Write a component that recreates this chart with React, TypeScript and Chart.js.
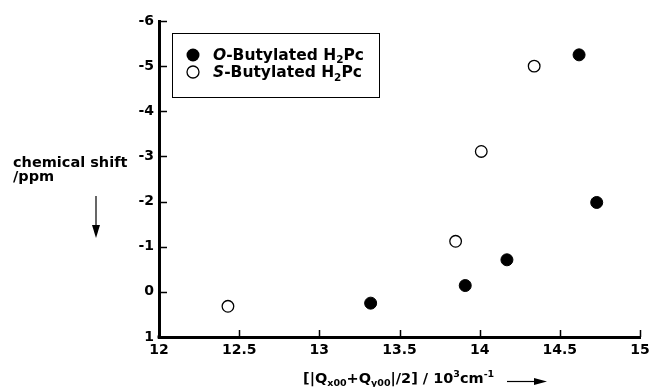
import React, { useEffect, useRef } from "react";
import { Chart, registerables } from "chart.js";

Chart.register(...registerables);

// ---- data ----
const oButylX = [13.32, 13.91, 14.17, 14.62, 14.73];
const oButylY = [0.25, -0.14, -0.71, -5.25, -1.98];
const sButylX = [12.43, 13.85, 14.01, 14.34];
const sButylY = [0.32, -1.12, -3.11, -5.0];
const seriesPrefix = ["O", "S"];
const seriesRest = ["-Butylated H", "-Butylated H"];
const seriesSub = ["2", "2"];
const seriesTail = ["Pc", "Pc"];
const yTitleLines = ["chemical shift", "/ppm"];
const xTitleRuns = [
  ["[|Q", "main"],
  ["x00", "sub"],
  ["+Q", "main"],
  ["y00", "sub"],
  ["|/2] / 10", "main"],
  ["3", "sup"],
  ["cm", "main"],
  ["-1", "sup"],
];
const xMin = 12;
const xMax = 15;
const xStep = 0.5;
const yMin = -6;
const yMax = 1;
const yStep = 1;

const FF = '"DejaVu Sans", sans-serif';

type Run = { text: string; font: string; dy: number };

function drawRuns(ctx: CanvasRenderingContext2D, x: number, baseline: number, runs: Run[]) {
  let cx = x;
  ctx.textBaseline = "alphabetic";
  ctx.textAlign = "left";
  for (const r of runs) {
    ctx.font = r.font;
    ctx.fillText(r.text, cx, baseline + r.dy);
    cx += ctx.measureText(r.text).width;
  }
  return cx;
}

const decorPlugin = {
  id: "decor",
  afterDraw(chart: any) {
    const ctx: CanvasRenderingContext2D = chart.ctx;
    const xs = chart.scales.x;
    const ys = chart.scales.y;
    const area = chart.chartArea;
    ctx.save();
    ctx.strokeStyle = "#000";
    ctx.fillStyle = "#000";

    // inward tick marks
    ctx.lineWidth = 1.5;
    ctx.beginPath();
    for (const t of xs.ticks) {
      if (t.value === xMin) continue;
      const px = Math.round(xs.getPixelForValue(t.value)) + 0.5;
      ctx.moveTo(px, area.bottom);
      ctx.lineTo(px, area.bottom - 7);
    }
    for (const t of ys.ticks) {
      if (t.value === yMax) continue;
      const py = Math.round(ys.getPixelForValue(t.value)) + 0.5;
      ctx.moveTo(area.left, py);
      ctx.lineTo(area.left + 8, py);
    }
    ctx.stroke();

    // corner fill
    ctx.fillRect(area.left - 1.5, area.bottom - 1.5, 3, 3);

    // y title
    ctx.font = `bold 14.5px ${FF}`;
    ctx.textBaseline = "alphabetic";
    ctx.fillText(yTitleLines[0], 13, 167);
    ctx.fillText(yTitleLines[1], 13, 180.5);
    // down arrow
    ctx.lineWidth = 1.2;
    ctx.beginPath();
    ctx.moveTo(96, 196);
    ctx.lineTo(96, 228);
    ctx.stroke();
    ctx.beginPath();
    ctx.moveTo(92, 225);
    ctx.lineTo(100, 225);
    ctx.lineTo(96, 238);
    ctx.closePath();
    ctx.fill();

    // x title
    const main = `bold 14.5px ${FF}`;
    const small = `bold 9.5px ${FF}`;
    const runs: Run[] = xTitleRuns.map(([t, k]) => ({
      text: t,
      font: k === "main" ? main : small,
      dy: k === "sub" ? 3 : k === "sup" ? -6 : 0,
    }));
    drawRuns(ctx, 303, 383, runs);
    // right arrow
    ctx.lineWidth = 1.2;
    ctx.beginPath();
    ctx.moveTo(507, 381.5);
    ctx.lineTo(537, 381.5);
    ctx.stroke();
    ctx.beginPath();
    ctx.moveTo(534, 378);
    ctx.lineTo(547, 381.5);
    ctx.lineTo(534, 385);
    ctx.closePath();
    ctx.fill();

    // legend
    ctx.lineWidth = 1;
    ctx.fillStyle = "#fff";
    ctx.fillRect(172.5, 33.5, 207, 64);
    ctx.strokeRect(172.5, 33.5, 207, 64);
    ctx.fillStyle = "#000";
    const markerY = [55, 72];
    const baseY = [59.5, 77];
    for (let i = 0; i < 2; i++) {
      ctx.beginPath();
      ctx.arc(193, markerY[i], i === 0 ? 6.5 : 6, 0, Math.PI * 2);
      if (i === 0) {
        ctx.fill();
      } else {
        ctx.fillStyle = "#fff";
        ctx.fill();
        ctx.fillStyle = "#000";
        ctx.lineWidth = 1.3;
        ctx.stroke();
      }
      drawRuns(ctx, 213, baseY[i], [
        { text: seriesPrefix[i], font: `italic bold 15.5px ${FF}`, dy: 0 },
        { text: seriesRest[i], font: `bold 15.5px ${FF}`, dy: 0 },
        { text: seriesSub[i], font: `bold 10.5px ${FF}`, dy: 3.5 },
        { text: seriesTail[i], font: `bold 15.5px ${FF}`, dy: 0 },
      ]);
    }
    ctx.restore();
  },
};

export default function App() {
  const ref = useRef<HTMLCanvasElement | null>(null);
  useEffect(() => {
    if (!ref.current) return;
    const chart = new Chart(ref.current, {
      type: "scatter",
      data: {
        datasets: [
          {
            label: "O-Butylated H2Pc",
            data: oButylX.map((x, i) => ({ x, y: oButylY[i] })),
            backgroundColor: "#000",
            borderColor: "#000",
            borderWidth: 1,
            pointRadius: 6,
            pointStyle: "circle",
          },
          {
            label: "S-Butylated H2Pc",
            data: sButylX.map((x, i) => ({ x, y: sButylY[i] })),
            backgroundColor: "#fff",
            borderColor: "#000",
            borderWidth: 1.3,
            pointRadius: 5.8,
            pointStyle: "circle",
          },
        ],
      },
      options: {
        responsive: false,
        animation: false,
        devicePixelRatio: 1,
        layout: { padding: { left: 0, top: 21, right: 11, bottom: 0 } },
        plugins: { legend: { display: false }, tooltip: { enabled: false } },
        scales: {
          x: {
            type: "linear",
            min: xMin,
            max: xMax,
            afterFit: (s: any) => {
              s.height = 50;
              s.paddingRight = 0;
              s.paddingLeft = 0;
            },
            ticks: {
              stepSize: xStep,
              color: "#000",
              padding: 5,
              font: { family: FF, weight: "bold", size: 14 },
              maxRotation: 0,
              callback: (v: any) => String(Number(v)),
            },
            grid: { display: false, drawTicks: false },
            border: { display: true, color: "#000", width: 3 },
          },
          y: {
            type: "linear",
            min: yMin,
            max: yMax,
            reverse: true,
            afterFit: (s: any) => {
              s.width = 159;
              s.paddingTop = 0;
              s.paddingBottom = 0;
            },
            ticks: {
              stepSize: yStep,
              color: "#000",
              padding: 5,
              font: { family: FF, weight: "bold", size: 14 },
              callback: (v: any) => String(Number(v)),
            },
            grid: { display: false, drawTicks: false },
            border: { display: true, color: "#000", width: 3 },
          },
        },
      },
      plugins: [decorPlugin],
    } as any);
    return () => chart.destroy();
  }, []);
  return (
    <div style={{ position: "absolute", left: 0, top: 0, width: 651, height: 387, background: "#fff" }}>
      <canvas ref={ref} width={651} height={387} style={{ display: "block" }} />
    </div>
  );
}
